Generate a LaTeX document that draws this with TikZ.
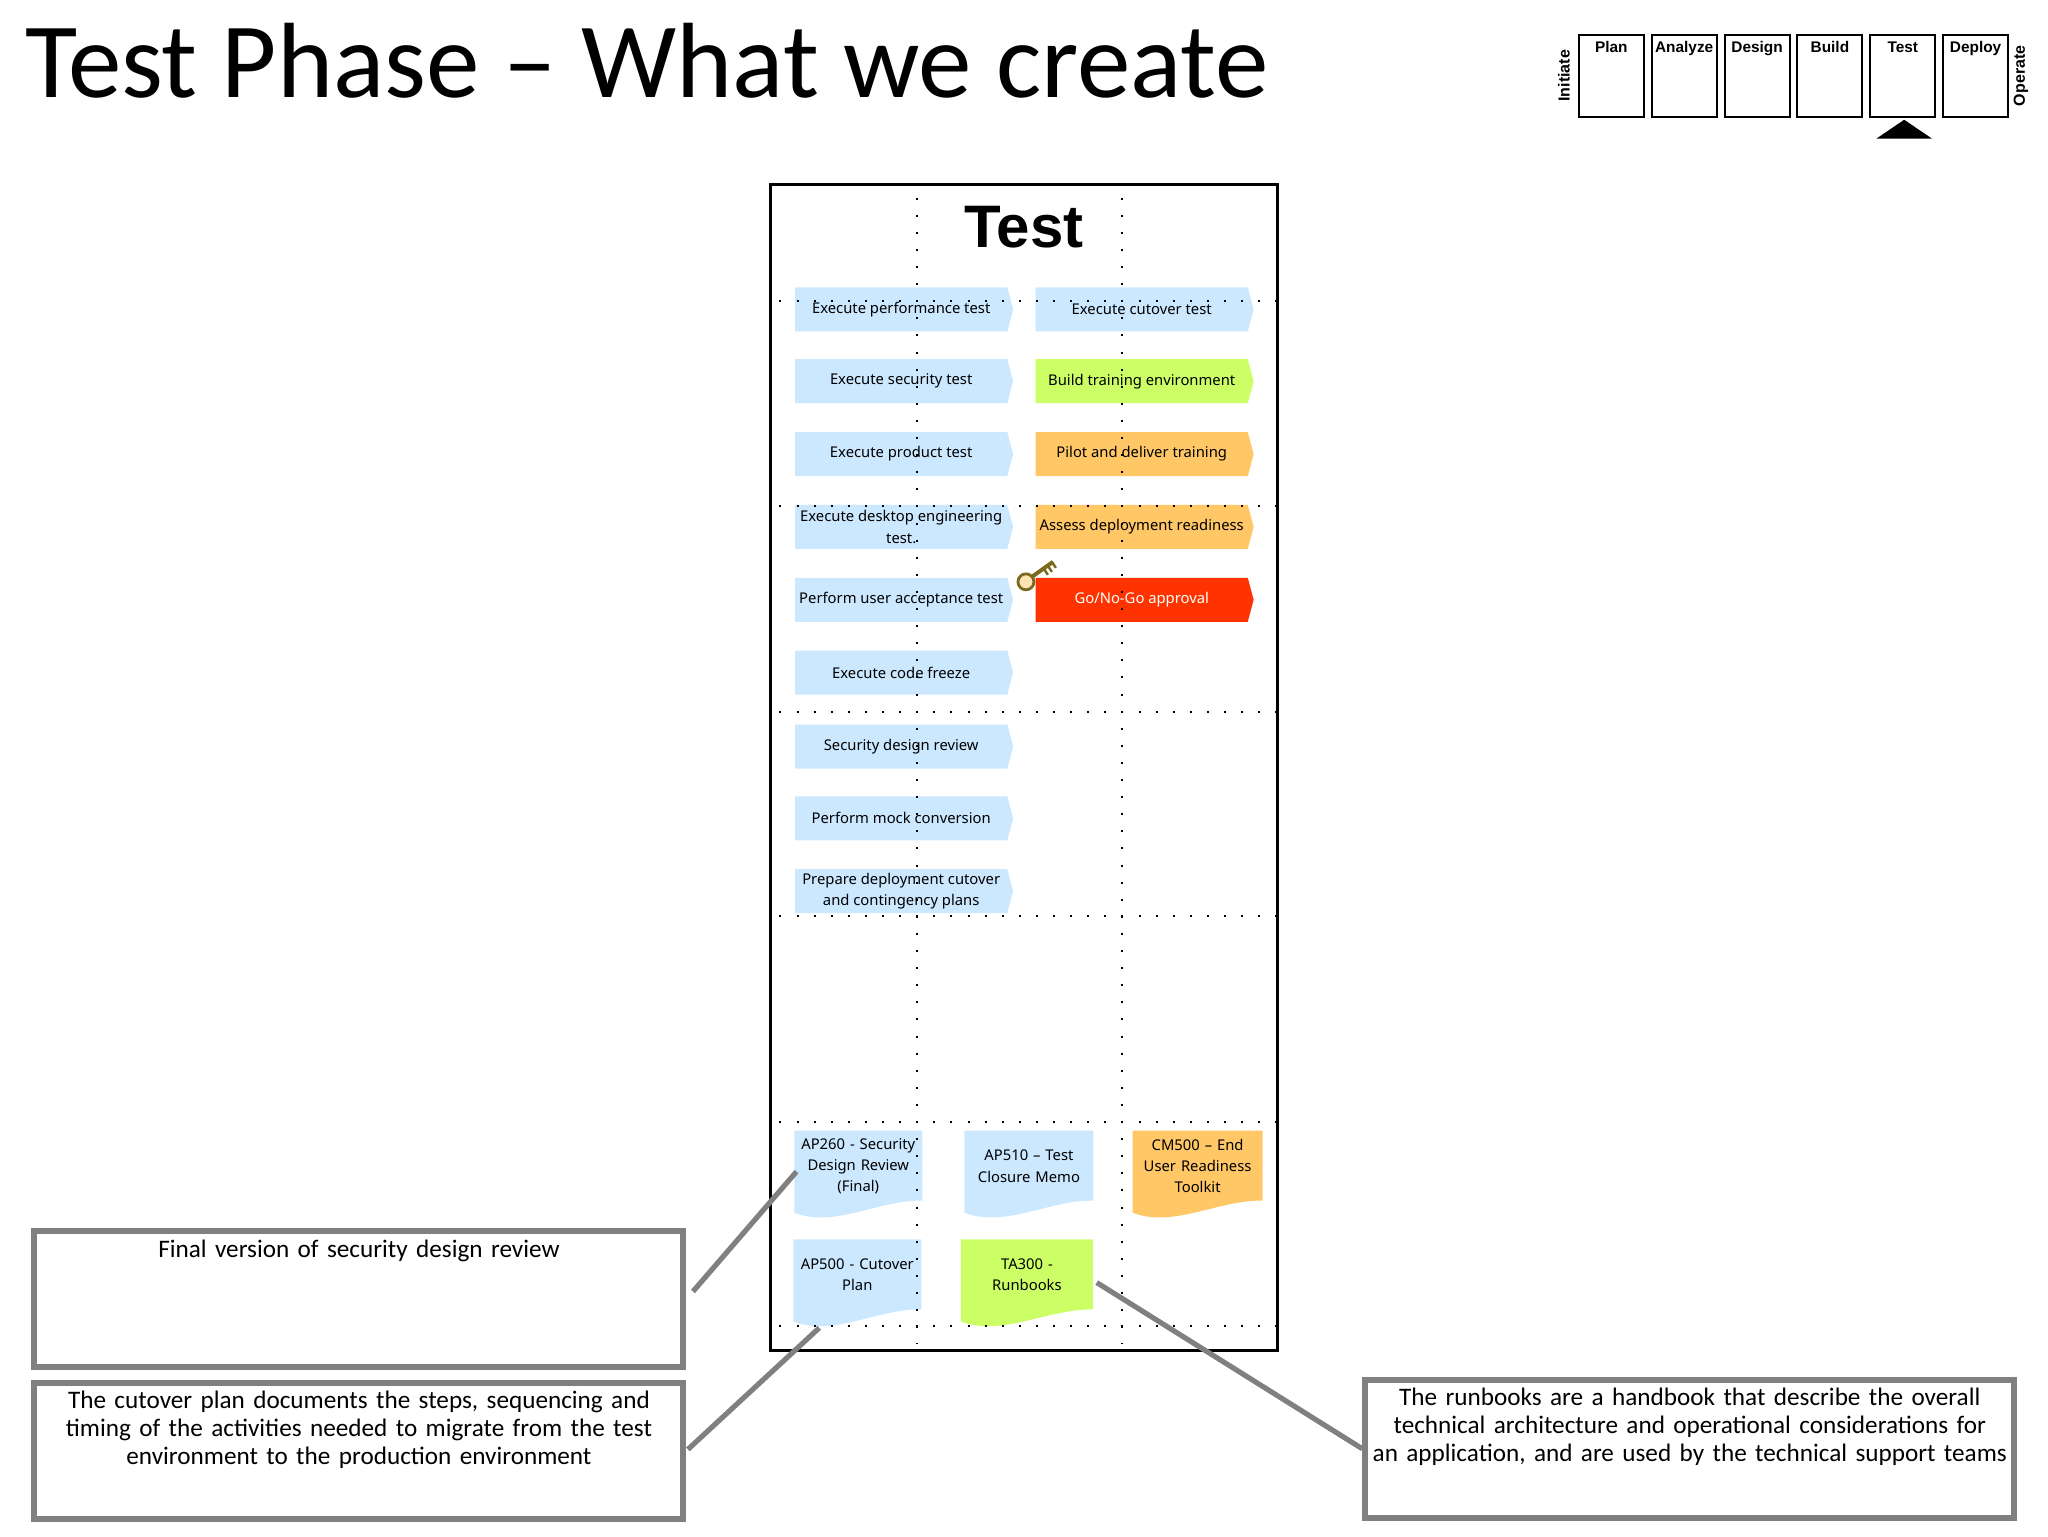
\documentclass[tikz,border=0pt]{standalone}
\usepackage{fontspec}
\usetikzlibrary{shapes.symbols}
\newfontfamily\handfont{Carlito}
\newfontfamily\boldfont{Liberation Sans}[BoldFont={Liberation Sans Bold}]
\newfontfamily\stepfont{Noto Sans}
\definecolor{skyfill}{HTML}{CCE8FF}
\definecolor{limefill}{HTML}{CCFF66}
\definecolor{amberfill}{HTML}{FFC766}
\definecolor{redfill}{HTML}{FF3300}
\definecolor{notegray}{HTML}{808080}
\definecolor{keygold}{HTML}{7A6A1E}
\tikzset{
    stepbox/.style={signal, signal to=east, signal pointer angle=150, fill=#1, draw=none, minimum width=109pt, minimum height=22pt, inner sep=0pt, align=center, font=\stepfont\fontsize{7.4}{10.6}\selectfont},
    docbox/.style={rectangle, inner sep=0pt, text width=64pt, align=center, font=\stepfont\fontsize{7.4}{10.6}\selectfont, execute at end node={\par\vspace*{8.5pt}},
        path picture={\fill[#1] (path picture bounding box.north west) -- (path picture bounding box.north east) -- ([yshift=9pt]path picture bounding box.south east) .. controls ([xshift=-22pt,yshift=9.5pt]path picture bounding box.south east) and ([xshift=20pt,yshift=-5pt]path picture bounding box.south west) .. ([yshift=3pt]path picture bounding box.south west) -- cycle;}},
    notebox/.style={draw=notegray, line width=3pt, anchor=north west, inner xsep=0pt, inner ysep=3pt, text width=324.5pt, align=center, text height=10pt, font=\handfont\fontsize{12.6}{14}\selectfont},
    phasebox/.style={draw, line width=1pt, anchor=north west, inner xsep=0pt, inner ysep=2.7pt, text width=32.5pt, align=center, text height=6pt, text depth=29.5pt, font=\boldfont\bfseries\fontsize{7.7}{9}\selectfont},
    griddot/.style={line width=1pt, dash pattern=on 1pt off 7.55pt},
    linkline/.style={draw=notegray, line width=2.6pt}
}
\begin{document}
\begin{tikzpicture}[x=0.499pt, y=-0.499pt]
    \useasboundingbox (0,0) rectangle (2052.1,1539.1);
    \node[anchor=base west, inner sep=0pt, font=\handfont\fontsize{53.5}{60}\selectfont] (pagetitle) at (25,98) {Test Phase – What we create};
    \foreach \phasenum/\phasename in {0/Plan,1/Analyze,2/Design,3/Build,4/Test,5/Deploy}
        \node[phasebox] (phase\phasenum) at ({1581+73*\phasenum},34) {\phasename};
    \node[rotate=90, inner sep=0pt, font=\boldfont\bfseries\fontsize{8}{9}\selectfont] (initiate) at (1567,76) {Initiate};
    \node[rotate=90, inner sep=0pt, font=\boldfont\bfseries\fontsize{8}{9}\selectfont] (operate) at (2025,76) {Operate};
    \fill (1880,139) -- (1908,120) -- (1936,139) -- cycle;
    \draw[line width=1.5pt] (772,185) rectangle (1280,1353);
    \node[inner sep=0pt, font=\boldfont\bfseries\fontsize{30}{32}\selectfont] (phasetitle) at (1026,228) {Test};
    \node[stepbox=skyfill] (perf) at (903,310) {Execute performance test};
    \node[stepbox=skyfill] (secure) at (903,382) {Execute security test};
    \node[stepbox=skyfill] (product) at (903,455) {Execute product test};
    \node[stepbox=skyfill] (desktop) at (903,528) {Execute desktop engineering\\test.};
    \node[stepbox=skyfill] (accept) at (903,601) {Perform user acceptance test};
    \node[stepbox=skyfill] (freeze) at (903,674) {Execute code freeze};
    \node[stepbox=skyfill] (review) at (903,748) {Security design review};
    \node[stepbox=skyfill] (mock) at (903,820) {Perform mock conversion};
    \node[stepbox=skyfill] (contingency) at (903,893) {Prepare deployment cutover\\and contingency plans};
    \node[stepbox=skyfill] (cutover) at (1144,310) {Execute cutover test};
    \node[stepbox=limefill] (training) at (1144,382) {Build training environment};
    \node[stepbox=amberfill] (pilot) at (1144,455) {Pilot and deliver training};
    \node[stepbox=amberfill] (readiness) at (1144,528) {Assess deployment readiness};
    \node[stepbox=redfill, text=white] (gonogo) at (1144,601) {Go/No-Go approval};
    \node[docbox=skyfill, minimum width=64pt, minimum height=44pt] (apsecurity) at (860,1177) {AP260 - Security\\Design Review\\(Final)};
    \node[docbox=skyfill, minimum width=64.5pt, minimum height=44pt] (apmemo) at (1031,1177) {AP510 – Test\\Closure Memo};
    \node[docbox=amberfill, minimum width=65pt, minimum height=44pt] (cmtoolkit) at (1200,1177) {CM500 – End\\User Readiness\\Toolkit};
    \node[docbox=skyfill, minimum width=63pt, minimum height=44pt] (apcutover) at (859,1286) {AP500 - Cutover\\Plan};
    \node[docbox=limefill, minimum width=66pt, minimum height=44pt] (tarunbook) at (1029,1286) {TA300 -\\Runbooks};
    \foreach \gridy in {302,507,713,918,1124,1329}
        \draw[griddot] (781,\gridy) -- (1278,\gridy);
    \foreach \gridx in {919,1124}
        \draw[griddot] (\gridx,198) -- (\gridx,1347);
    \draw[keygold, line width=2pt] (1034,578) -- (1055,563);
    \draw[keygold, line width=1.2pt] (1046,570) -- (1050,576) (1050,567) -- (1054,573) (1054,563) -- (1058,569);
    \draw[keygold, line width=1.4pt, fill=amberfill!50] (1028,583) circle (8);
    \node[notebox, text depth=52pt] (finalnote) at (31.5,1230.5) {Final version of security design review};
    \node[notebox, text depth=52pt] (cutovernote) at (31.5,1382.5) {The cutover plan documents the steps, sequencing and\\timing of the activities needed to migrate from the test\\environment to the production environment};
    \node[notebox, text depth=53pt] (runbooknote) at (1365,1379.5) {The runbooks are a handbook that describe the overall\\technical architecture and operational considerations for\\an application, and are used by the technical support teams};
    \draw[linkline, shorten <=5pt, shorten >=-2pt] (finalnote.east) -- (apsecurity.west);
    \draw[linkline, shorten <=1pt] (cutovernote.east) -- ([xshift=-19pt]apcutover.south);
    \draw[linkline, shorten >=2pt] (runbooknote.west) -- ([yshift=1.5pt]tarunbook.east);
\end{tikzpicture}
\end{document}
